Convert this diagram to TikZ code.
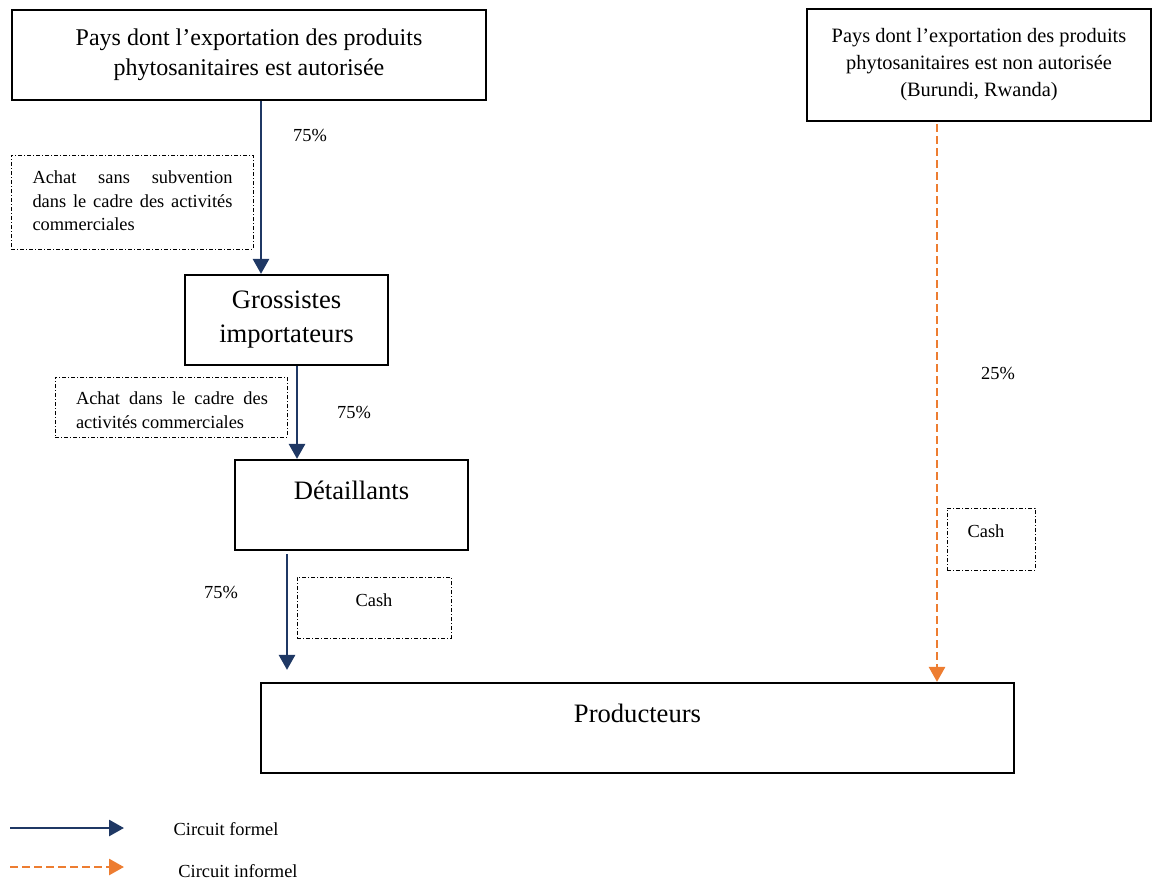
\documentclass[tikz,border=0pt]{standalone}
\usepackage{fontspec}
\setmainfont{Liberation Serif}
\usetikzlibrary{arrows.meta}
\definecolor{navy}{HTML}{1F3864}
\definecolor{orng}{HTML}{ED7D31}
\begin{document}
\begin{tikzpicture}[x=1pt,y=-1pt,
  mainbox/.style={draw=black,line width=2.2pt,inner sep=0pt,align=center},
  notebox/.style={draw=black,line width=0.9pt,dash pattern=on 4pt off 2pt on 1pt off 2pt,inner sep=0pt},
  formal/.style={draw=navy,line width=2.8pt,-{Triangle[length=15pt,width=16pt]}},
  informal/.style={draw=orng,line width=2.8pt,dash pattern=on 8pt off 4pt,-{Triangle[length=15pt,width=16pt]}},
  lbl/.style={font=\fontsize{18.4}{23.5}\selectfont,inner sep=0pt}
]
\useasboundingbox (0,0) rectangle (1154,881);
\hyphenpenalty=10000
% main boxes
\node[mainbox,minimum width=474pt,minimum height=90pt,font=\fontsize{24}{30}\selectfont] (pays1) at (249,55) {Pays dont l’exportation des produits\\phytosanitaires est autorisée};
\node[mainbox,minimum width=344pt,minimum height=112pt,font=\fontsize{20.4}{27}\selectfont] (pays2) at (979,65) {Pays dont l’exportation des produits\\phytosanitaires est non autorisée\\(Burundi, Rwanda)};
\node[mainbox,minimum width=203pt,minimum height=90pt,font=\fontsize{26.6}{34}\selectfont] (gross) at (286.5,320) {Grossistes\\importateurs};
\node[mainbox,minimum width=233pt,minimum height=90pt] (det) at (351.5,505) {};
\node[font=\fontsize{26.6}{30}\selectfont,inner sep=0pt] (dett) at (351.5,490) {Détaillants};
\node[mainbox,minimum width=753pt,minimum height=90pt] (prod) at (637.5,728) {};
\node[font=\fontsize{26.6}{30}\selectfont,inner sep=0pt] (prodt) at (637.5,713) {Producteurs};
% note boxes
\node[notebox,minimum width=242pt,minimum height=94pt] (n1) at (132,202) {};
\node[lbl,text width=200pt,align=justify] (n1t) at (132.5,201) {Achat sans subvention\linebreak dans le cadre des activités commerciales};
\node[notebox,minimum width=232pt,minimum height=60pt] (n2) at (171,407) {};
\node[lbl,text width=192pt,align=justify,font=\fontsize{18.4}{24}\selectfont] (n2t) at (172,410) {Achat dans le cadre des\linebreak activités commerciales};
\node[notebox,minimum width=154pt,minimum height=61pt] (n3) at (374,607.5) {};
\node[lbl] (n3t) at (374,600) {Cash};
\node[notebox,minimum width=88pt,minimum height=62pt] (n4) at (991,539) {};
\node[lbl] (n4t) at (986,531) {Cash};
% arrows
\coordinate (c1) at (261,0);
\coordinate (c2) at (297,0);
\coordinate (c3) at (287,0);
\coordinate (c4) at (937,0);
\draw[formal] (pays1.south -| c1) -- (gross.north -| c1);
\draw[formal] (gross.south -| c2) -- (det.north -| c2);
\draw[formal,shorten <=3pt,shorten >=12pt] (det.south -| c3) -- (prod.north -| c3);
\draw[informal,shorten <=2pt] (pays2.south -| c4) -- (prod.north -| c4);
% percentages
\node[lbl] (p1) at (310,136) {75\%};
\node[lbl] (p2) at (354,412) {75\%};
\node[lbl] (p3) at (221,592) {75\%};
\node[lbl] (p4) at (998,373) {25\%};
% legend
\coordinate (l1a) at (10,828);
\coordinate (l1b) at (124,828);
\coordinate (l2a) at (10,867);
\coordinate (l2b) at (124,867);
\draw[formal] (l1a) -- (l1b);
\draw[informal] (l2a) -- (l2b);
\node[lbl] (leg1) at (226,829) {Circuit formel};
\node[lbl] (leg2) at (238,871) {Circuit informel};
\end{tikzpicture}
\end{document}
